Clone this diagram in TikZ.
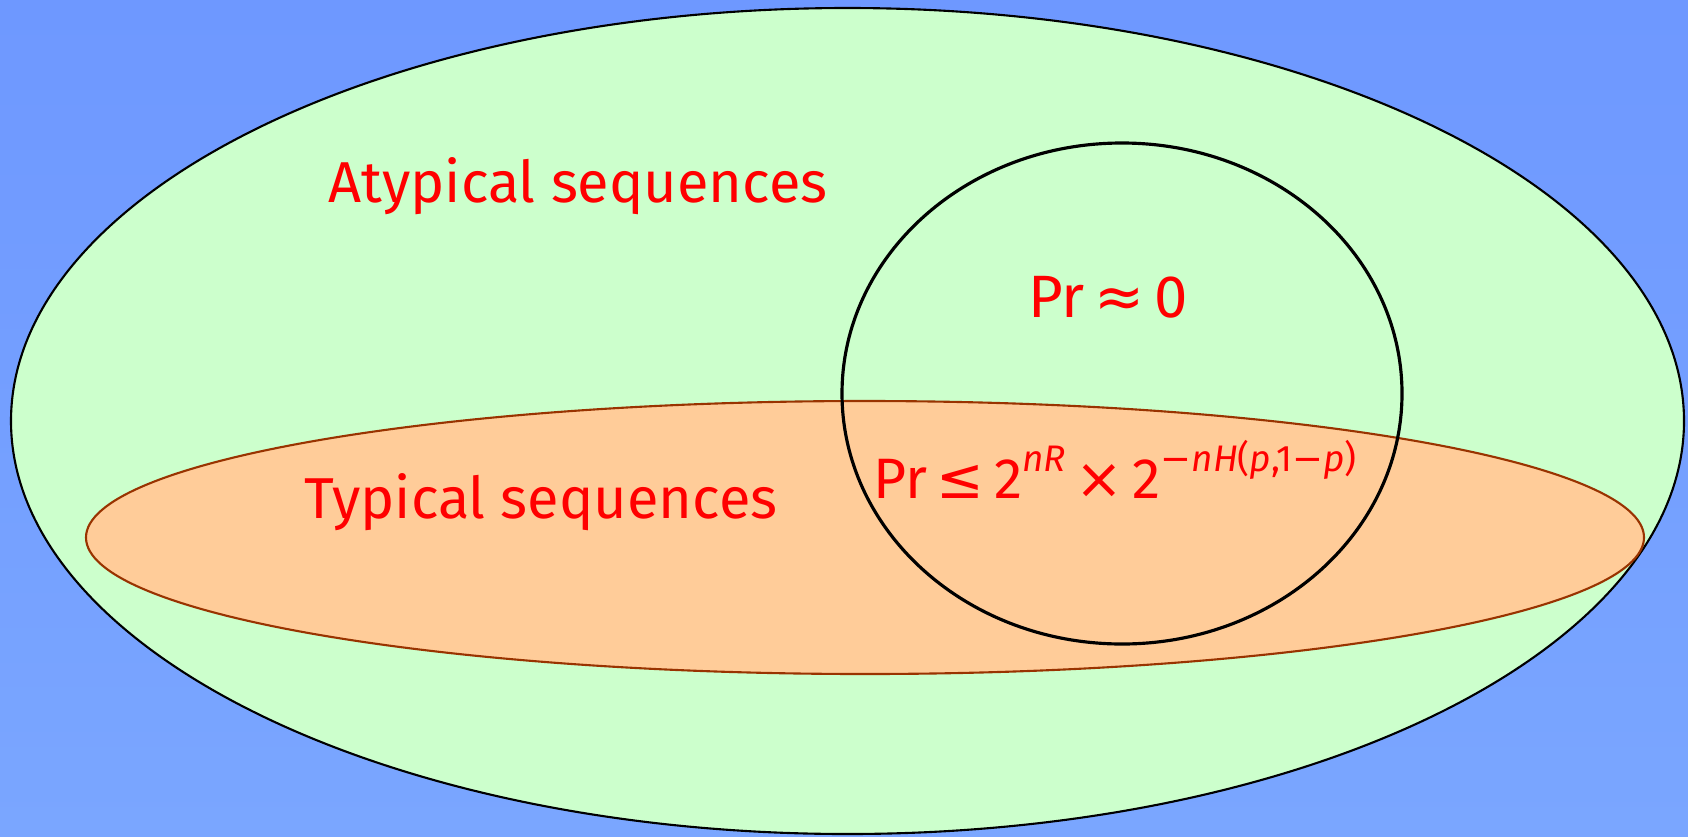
\documentclass[tikz,border=0pt]{standalone}
\usepackage{fontspec}
\setmainfont{Fira Sans}
\newfontfamily\symf{DejaVu Sans}
\definecolor{bgblue}{RGB}{110,152,255}
\definecolor{bgblue2}{RGB}{122,166,255}
\definecolor{setgreen}{RGB}{204,255,204}
\definecolor{setorange}{RGB}{255,204,153}
\definecolor{setbrown}{RGB}{153,51,0}
\newcommand{\expo}[1]{\raisebox{7.4pt}{\fontsize{10.5}{13}\selectfont #1}}
\tikzset{
  label text/.style={red, font=\fontsize{16.4}{20}\selectfont, anchor=base},
  formula text/.style={label text, font=\fontsize{17}{20}\selectfont},
}
\begin{document}
\begin{tikzpicture}[x=0.01cm, y=-0.01cm]
    % 背景
    \useasboundingbox (0,0) rectangle (1688,836);
    \shade[top color=bgblue, bottom color=bgblue2] (0,0) rectangle (1688,836);

    % 全部序列
    \draw[fill=setgreen, line width=0.6pt] (847.5,421) ellipse [x radius=836.5, y radius=413];

    % 典型序列
    \draw[fill=setorange, draw=setbrown, line width=0.6pt] (865,537.5) ellipse [x radius=779, y radius=136.5];

    % 译码区域
    \draw[line width=0.9pt] (1122,393.5) ellipse [x radius=280, y radius=250.5];

    % 标注
    \node[label text] (atyp) at (578,202) {Atypical sequences};
    \node[label text] (typ) at (541,518) {Typical sequences};
    \node[formula text] (przero) at (1108,317) {Pr\,{\symf ≈}\,0};
    \node[formula text, font=\fontsize{16.2}{20}\selectfont] (prbound) at (1115,498)
        {Pr\,{\symf ≤}\,2\expo{\itshape nR}\,{\symf ×}\,2\expo{{\symf −}\itshape nH\upshape(\itshape p\upshape,1{\symf −}\itshape p\upshape)}};
\end{tikzpicture}
\end{document}
